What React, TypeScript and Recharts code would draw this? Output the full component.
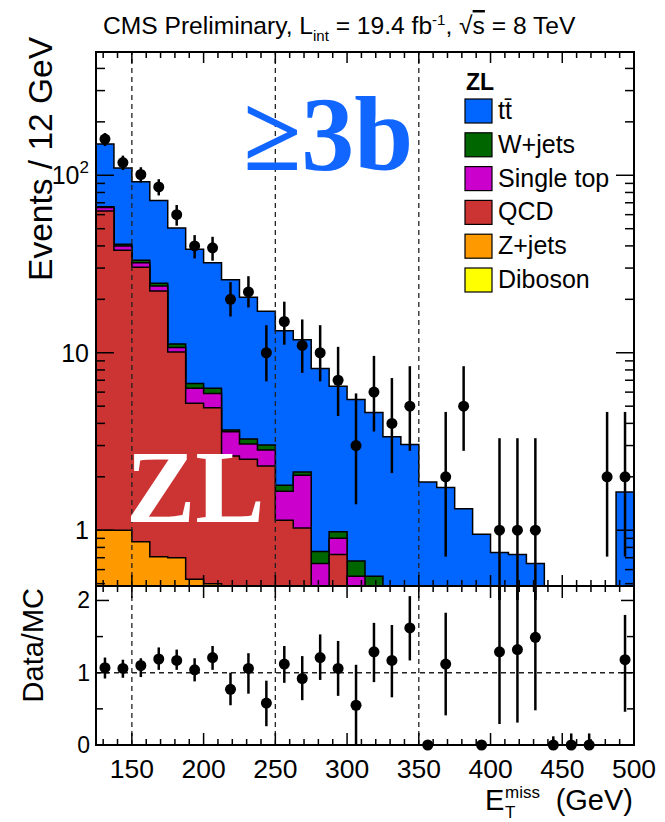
import React from 'react';
import { Area, ComposedChart, ErrorBar, ReferenceLine, Scatter, XAxis, YAxis } from 'recharts';

// E_T^miss binning (GeV), 30 bins of 12.5 GeV
const binEdges = [125, 137.5, 150, 162.5, 175, 187.5, 200, 212.5, 225, 237.5, 250, 262.5, 275, 287.5, 300, 312.5, 325, 337.5, 350, 362.5, 375, 387.5, 400, 412.5, 425, 437.5, 450, 462.5, 475, 487.5, 500];

// MC expectation per bin (events)
const dibosonEvents = [0.03, 0.03, 0.02, 0.02, 0.02, 0.01, 0.01, 0.01, 0.01, 0.01, 0, 0, 0, 0, 0, 0, 0, 0, 0, 0, 0, 0, 0, 0, 0, 0, 0, 0, 0, 0];
const zjetsEvents = [0.97, 0.97, 0.84, 0.69, 0.68, 0.52, 0.49, 0.3, 0.2, 0.2, 0.1, 0.1, 0.05, 0.05, 0.02, 0.02, 0.01, 0, 0, 0, 0, 0, 0, 0, 0, 0, 0, 0, 0, 0];
const qcdEvents = [62, 36.8, 29.5, 21.6, 9.4, 4.67, 4.4, 2.31, 2.3, 2.09, 1.04, 0.93, 0.25, 0.68, 0.18, 0.08, 0.04, 0.03, 0, 0, 0, 0, 0, 0, 0, 0, 0, 0, 0, 0];
const singleTopEvents = [2.8, 2.2, 1.8, 1.5, 0.6, 1.1, 1.0, 0.97, 0.55, 0.53, 0.52, 1.01, 0.35, 0.17, 0.35, 0.2, 0.05, 0.02, 0.02, 0.02, 0.01, 0, 0, 0, 0, 0, 0, 0, 0, 0];
const wjetsEvents = [0.7, 0.8, 1.0, 0.8, 0.5, 0.4, 0.4, 0.08, 0.21, 0.19, 0.13, 0.09, 0.11, 0.08, 0.12, 0.25, 0.1, 0.05, 0.05, 0.02, 0.01, 0, 0, 0, 0, 0, 0, 0, 0, 0];
const ttbarEvents = [83.5, 69.2, 58.8, 47.4, 39.3, 31.6, 25.8, 22.1, 17.3, 14.1, 11.5, 9.7, 7.4, 5.5, 4.78, 4.05, 3.16, 2.94, 1.8, 1.7, 1.3, 0.95, 0.75, 0.73, 0.65, 0.3, 0.2, 0.15, 0, 1.64];

// observed data with error bar ends
const dataEvents = [160, 118, 101, 86, 60, 40, 39, 20, 22, 10, 15, 11, 10, 7, 3, 6, 4, 5, 0, 2, 5, 0, 1, 1, 1, 0, 0, 0, 2, 2];
const dataLow = [146, 107, 91, 77, 52, 34, 33, 16, 18, 6.9, 11.1, 7.7, 6.9, 4.4, 1.4, 3.6, 2.1, 2.8, 0, 0.71, 2.8, 0, 0.17, 0.17, 0.17, 0, 0, 0, 0.71, 0.71];
const dataHigh = [173, 129, 111, 95, 68, 46, 45, 25, 27, 14.3, 19.4, 15.4, 14.3, 10.8, 5.9, 9.6, 7.2, 8.4, 0, 4.64, 8.4, 0, 3.3, 3.3, 3.3, 0, 0, 0, 4.64, 4.64];

// Data/MC ratio panel (null = no point drawn)
const ratioValues = [1.07, 1.06, 1.10, 1.19, 1.17, 1.04, 1.21, 0.77, 1.06, 0.58, 1.12, 0.92, 1.21, 1.06, 0.55, 1.29, 1.17, 1.62, 0, 1.12, null, 0, 1.29, 1.32, 1.49, 0, 0, 0, null, 1.18];
const ratioLow = [0.92, 0.93, 0.94, 1.04, 1.04, 0.88, 1.04, 0.55, 0.71, 0.26, 0.86, 0.62, 0.90, 0.68, 0, 0.87, 0.66, 1.17, 0, 0.41, null, 0, 0.29, 0.31, 0.48, 0, 0, 0, null, 0.46];
const ratioHigh = [1.21, 1.18, 1.20, 1.35, 1.32, 1.20, 1.37, 1.00, 1.27, 0.89, 1.37, 1.23, 1.53, 1.44, 1.11, 1.69, 1.66, 2.06, 0, 1.83, null, 0, 3.2, 3.2, 3.5, 0.12, 0.16, 0.16, null, 1.8];

// axis ticks
const xMinorTicks = [130, 140, 150, 160, 170, 180, 190, 200, 210, 220, 230, 240, 250, 260, 270, 280, 290, 300, 310, 320, 330, 340, 350, 360, 370, 380, 390, 400, 410, 420, 430, 440, 450, 460, 470, 480, 490, 500];
const xTickLabels = [150, 200, 250, 300, 350, 400, 450, 500];
const yLogTicks = [0.5, 0.6, 0.7, 0.8, 0.9, 1, 2, 3, 4, 5, 6, 7, 8, 9, 10, 20, 30, 40, 50, 60, 70, 80, 90, 100, 200, 300, 400];
const yLogLabels = [1, 10, 100];
const ratioTicks = [0, 0.5, 1, 1.5, 2];
const ratioTickLabels = [0, 1, 2];
const regionCuts = [150, 250, 350];

const stack = [
  { key: 'vv', name: 'Diboson', values: dibosonEvents, color: '#FFFF00' },
  { key: 'zj', name: 'Z+jets', values: zjetsEvents, color: '#FF9900' },
  { key: 'qcd', name: 'QCD', values: qcdEvents, color: '#CC3333' },
  { key: 'st', name: 'Single top', values: singleTopEvents, color: '#CC00CC' },
  { key: 'wj', name: 'W+jets', values: wjetsEvents, color: '#006600' },
  { key: 'tt', name: 't\u0074\u0304', values: ttbarEvents, color: '#0066FF' },
];

// layout (page pixels)
const W = 665;
const PLOT_L = 96;
const PLOT_R = 634;
const MAIN_T = 52;
const MAIN_B = 586;
const RATIO_B = 745;
const PW = PLOT_R - PLOT_L;
const MAIN_H = MAIN_B - MAIN_T;
const RATIO_H = RATIO_B - MAIN_B;
const RATIO_MAX = 2.2;

const SANS = '"Liberation Sans", Arial, Helvetica, sans-serif';
const SERIF = '"Liberation Serif", "Times New Roman", serif';

const centre = (i: number) => (binEdges[i] + binEdges[i + 1]) / 2;

// cumulative stack heights at each bin edge (stepAfter)
const histRows = binEdges.map((edge, j) => {
  const bin = Math.min(j, binEdges.length - 2);
  const row: any = { x: edge };
  let cum = 0;
  stack.forEach((s) => {
    cum += s.values[bin];
    row[s.key] = Math.max(cum, 1e-3);
  });
  return row;
});

const dataPoints = dataEvents
  .map((n, i) => ({ x: centre(i), y: n, err: [n - dataLow[i], dataHigh[i] - n] }))
  .filter((p) => p.y > 0);

const ratioPoints = ratioValues
  .map((r, i) =>
    r === null
      ? null
      : { x: centre(i), y: r, err: [r - (ratioLow[i] as number), Math.min(ratioHigh[i] as number, RATIO_MAX) - r] }
  )
  .filter(Boolean) as any[];

function MainYTick(props: any) {
  const { x, y, payload } = props;
  const v = payload.value;
  const major = yLogLabels.includes(v);
  const len = major ? 18 : 9;
  return (
    <g>
      <line x1={x} x2={x + len} y1={y} y2={y} stroke="#000" strokeWidth={1.5} />
      <line x1={x + PW} x2={x + PW - len} y1={y} y2={y} stroke="#000" strokeWidth={1.5} />
      {major && (
        <text x={x - 7} y={y + 9} textAnchor="end" fontFamily={SANS} fontSize={25} fill="#000">
          {v === 100 ? (
            <>
              10<tspan fontSize={17} dy={-11}>2</tspan>
            </>
          ) : (
            String(v)
          )}
        </text>
      )}
    </g>
  );
}

function MainXTick(props: any) {
  const { x, y, payload } = props;
  const len = xTickLabels.includes(payload.value) ? 11 : 6;
  return (
    <g>
      <line x1={x} x2={x} y1={y} y2={y - len} stroke="#000" strokeWidth={1.5} />
      <line x1={x} x2={x} y1={y - MAIN_H} y2={y - MAIN_H + len} stroke="#000" strokeWidth={1.5} />
    </g>
  );
}

function RatioYTick(props: any) {
  const { x, y, payload } = props;
  const v = payload.value;
  const major = ratioTickLabels.includes(v);
  const len = major ? 13 : 7;
  return (
    <g>
      <line x1={x} x2={x + len} y1={y} y2={y} stroke="#000" strokeWidth={1.5} />
      <line x1={x + PW} x2={x + PW - len} y1={y} y2={y} stroke="#000" strokeWidth={1.5} />
      {major && (
        <text x={x - 6} y={y + 8} textAnchor="end" fontFamily={SANS} fontSize={23} fill="#000">
          {String(v)}
        </text>
      )}
    </g>
  );
}

function RatioXTick(props: any) {
  const { x, y, payload } = props;
  const major = xTickLabels.includes(payload.value);
  const len = major ? 12 : 6;
  return (
    <g>
      <line x1={x} x2={x} y1={y} y2={y - len} stroke="#000" strokeWidth={1.5} />
      <line x1={x} x2={x} y1={y - RATIO_H} y2={y - RATIO_H + len} stroke="#000" strokeWidth={1.5} />
      {major && (
        <text x={x} y={y + 33} textAnchor="middle" fontFamily={SANS} fontSize={26.5} fill="#000">
          {String(payload.value)}
        </text>
      )}
    </g>
  );
}

const dot = (p: any) => <circle cx={p.cx} cy={p.cy} r={5.5} fill="#000" />;

export default function App() {
  const legendRows = [...stack].reverse();
  return (
    <div style={{ position: 'absolute', left: 0, top: 0, width: W, height: 822, background: '#fff' }}>
      <div style={{ position: 'absolute', left: 0, top: 0 }}>
        <ComposedChart width={W} height={600} data={histRows} margin={{ top: MAIN_T, right: W - PLOT_R, left: 0, bottom: 13 }}>
          <XAxis
            dataKey="x"
            type="number"
            domain={[125, 500]}
            allowDataOverflow
            ticks={xMinorTicks}
            interval={0}
            height={1}
            tickSize={0}
            tickMargin={0}
            tickLine={false}
            axisLine={false}
            tick={(p: any) => <MainXTick {...p} />}
          />
          <YAxis
            type="number"
            scale="log"
            domain={[0.485, 495]}
            allowDataOverflow
            ticks={yLogTicks}
            interval={0}
            width={PLOT_L}
            tickSize={0}
            tickMargin={0}
            tickLine={false}
            axisLine={false}
            tick={(p: any) => <MainYTick {...p} />}
          />
          {legendRows.map((s) => (
            <Area
              key={s.key}
              type="stepAfter"
              dataKey={s.key}
              fill={s.color}
              fillOpacity={1}
              stroke="#000"
              strokeWidth={1.5}
              dot={false}
              activeDot={false}
              isAnimationActive={false}
            />
          ))}
          {regionCuts.map((c) => (
            <ReferenceLine key={c} x={c} stroke="#222" strokeWidth={1.3} strokeDasharray="5 4" />
          ))}
          <Scatter data={dataPoints} dataKey="y" shape={dot} isAnimationActive={false}>
            <ErrorBar dataKey="err" direction="y" width={0} stroke="#000" strokeWidth={2.5} />
          </Scatter>
        </ComposedChart>
      </div>

      <div style={{ position: 'absolute', left: 0, top: MAIN_B }}>
        <ComposedChart width={W} height={236} data={ratioPoints} margin={{ top: 0, right: W - PLOT_R, left: 0, bottom: 17 }}>
          <XAxis
            dataKey="x"
            type="number"
            domain={[125, 500]}
            allowDataOverflow
            ticks={xMinorTicks}
            interval={0}
            height={60}
            tickSize={0}
            tickMargin={0}
            tickLine={false}
            axisLine={false}
            tick={(p: any) => <RatioXTick {...p} />}
          />
          <YAxis
            type="number"
            domain={[0, RATIO_MAX]}
            ticks={ratioTicks}
            interval={0}
            width={PLOT_L}
            tickSize={0}
            tickMargin={0}
            tickLine={false}
            axisLine={false}
            tick={(p: any) => <RatioYTick {...p} />}
          />
          <ReferenceLine y={1} stroke="#222" strokeWidth={1.3} strokeDasharray="5 4" />
          {regionCuts.map((c) => (
            <ReferenceLine key={c} x={c} stroke="#222" strokeWidth={1.3} strokeDasharray="5 4" />
          ))}
          <Scatter dataKey="y" shape={dot} isAnimationActive={false}>
            <ErrorBar dataKey="err" direction="y" width={0} stroke="#000" strokeWidth={2.5} />
          </Scatter>
        </ComposedChart>
      </div>

      <svg width={W} height={822} style={{ position: 'absolute', left: 0, top: 0, pointerEvents: 'none' }}>
        <rect x={PLOT_L} y={MAIN_T} width={PW} height={MAIN_H} fill="none" stroke="#000" strokeWidth={2} />
        <rect x={PLOT_L} y={MAIN_B} width={PW} height={RATIO_H} fill="none" stroke="#000" strokeWidth={2} />

        <text x={103} y={34} fontFamily={SANS} fontSize={24.6} fill="#000">
          CMS Preliminary, L
          <tspan fontSize={15} dy={7}>int</tspan>
          <tspan dy={-7}> = 19.4 fb</tspan>
          <tspan fontSize={15} dy={-9}>-1</tspan>
          <tspan dy={9}>, √</tspan>
          <tspan textDecoration="overline">s</tspan>
          <tspan> = 8 TeV</tspan>
        </text>

        <text transform="translate(52,37) rotate(-90)" textAnchor="end" fontFamily={SANS} fontSize={33.5} fill="#000">
          Events / 12 GeV
        </text>
        <text transform="translate(43,588) rotate(-90)" textAnchor="end" fontFamily={SANS} fontSize={29} fill="#000">
          Data/MC
        </text>

        <text x={485} y={810} fontFamily={SANS} fontSize={29} fill="#000">E</text>
        <text x={505} y={818} fontFamily={SANS} fontSize={17} fill="#000">T</text>
        <text x={505} y={798} fontFamily={SANS} fontSize={17} fill="#000">miss</text>
        <text x={633} y={810} textAnchor="end" fontFamily={SANS} fontSize={29} fill="#000">(GeV)</text>

        <text x={243} y={170} fontFamily={SERIF} fontSize={106} fontWeight="bold" fill="#1166FF">≥3b</text>
        <text x={126} y={522} fontFamily={SERIF} fontSize={104} fontWeight="bold" fill="#fff">ZL</text>

        <text x={466} y={90} fontFamily={SANS} fontSize={23} fontWeight="bold" fill="#000">ZL</text>
        {legendRows.map((s, i) => (
          <g key={s.key}>
            <rect x={465} y={99 + 33.8 * i} width={27} height={24} fill={s.color} stroke="#000" strokeWidth={1.2} />
            <text x={498} y={99 + 33.8 * i + 20} fontFamily={SANS} fontSize={25} fill="#000">
              {s.name}
            </text>
          </g>
        ))}
      </svg>
    </div>
  );
}
